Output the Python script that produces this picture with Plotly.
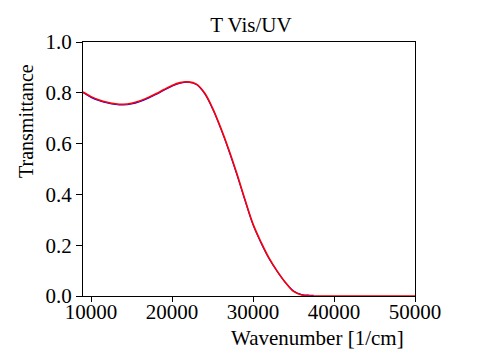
import plotly.graph_objects as go

# Wavenumber [1/cm] and transmittance
x_red = [9000, 10000, 11000, 12000, 13000, 14000, 15000, 16000, 17000, 18000,
         19000, 20000, 21000, 22000, 23000, 24000, 25000, 26000, 27000, 28000,
         29000, 30000, 31000, 32000, 33000, 34000, 35000, 36000, 37000, 38000,
         40000, 45000, 50000]
t_red = [0.803, 0.785, 0.772, 0.763, 0.757, 0.755, 0.759, 0.768, 0.781, 0.796,
         0.813, 0.829, 0.840, 0.843, 0.834, 0.800, 0.740, 0.663, 0.577, 0.482,
         0.380, 0.283, 0.211, 0.148, 0.097, 0.053, 0.018, 0.004, 0.001, 0.0,
         0.0, 0.0, 0.0]

x_blue = [9000, 10000, 11000, 12000, 13000, 14000, 15000, 16000, 17000, 18000,
          19000, 20000, 21000, 22000, 23000, 24000, 25000, 26000, 27000, 28000,
          29000, 30000, 31000, 32000, 33000, 34000, 35000, 36000, 37000, 37500]
t_blue = [0.801, 0.782, 0.769, 0.760, 0.754, 0.752, 0.756, 0.765, 0.778, 0.793,
          0.810, 0.826, 0.838, 0.842, 0.833, 0.798, 0.737, 0.660, 0.573, 0.478,
          0.377, 0.280, 0.208, 0.146, 0.096, 0.053, 0.020, 0.006, 0.003, 0.003]

x_ticks = [10000, 20000, 30000, 40000, 50000]
x_tick_labels = ["10000", "20000", "30000", "40000", "50000"]
y_ticks = [0, 0.2, 0.4, 0.6, 0.8, 1.0]
y_tick_labels = ["0.0", "0.2", "0.4", "0.6", "0.8", "1.0"]

fig = go.Figure()
fig.add_trace(go.Scatter(x=x_blue, y=t_blue, mode="lines", line=dict(color="#0000ff", width=1.2, shape="spline"), showlegend=False))
fig.add_trace(go.Scatter(x=x_red, y=t_red, mode="lines", line=dict(color="#ff0000", width=1.6, shape="spline"), showlegend=False))

font = "Liberation Serif, Times New Roman, serif"
# page body has an 8px margin, so the figure is sized 8px smaller
W, H = 485, 347
L, R, T, B = 75, 78, 34, 59
PW, PH = W - L - R, H - T - B
fig.update_layout(
    width=W, height=H,
    margin=dict(l=L, r=R, t=T, b=B, autoexpand=False),
    paper_bgcolor="white", plot_bgcolor="white",
    font=dict(family=font, color="black", size=21),
    title=dict(text="T Vis/UV", x=243 / W, xanchor="center", xref="container",
               y=1 - 17 / H, yanchor="middle", yref="container",
               font=dict(family=font, size=21, color="black")),
    xaxis=dict(range=[9000, 50000], tickvals=x_ticks, ticktext=x_tick_labels, automargin=False,
               ticks="outside", ticklen=5, tickcolor="black", showline=True, linecolor="black",
               linewidth=1, mirror=True, showgrid=False, zeroline=False,
               ticklabelstandoff=-8, tickfont=dict(size=21)),
    yaxis=dict(range=[0, 1], tickvals=y_ticks, ticktext=y_tick_labels, automargin=False,
               ticks="outside", ticklen=6, tickcolor="black", showline=True, linecolor="black",
               linewidth=1, mirror=True, showgrid=False, zeroline=False,
               tickfont=dict(size=21)),
    annotations=[
        dict(text="Wavenumber [1/cm]", xref="paper", yref="paper",
             x=(317.5 - 83) / PW, y=-42 / PH, xanchor="center", yanchor="middle",
             showarrow=False, font=dict(size=21)),
        dict(text="Transmittance", xref="paper", yref="paper", textangle=-90,
             x=-57 / PW, y=175 / PH, xanchor="center", yanchor="middle",
             showarrow=False, font=dict(size=20)),
    ],
)
fig.write_html("out.html")
